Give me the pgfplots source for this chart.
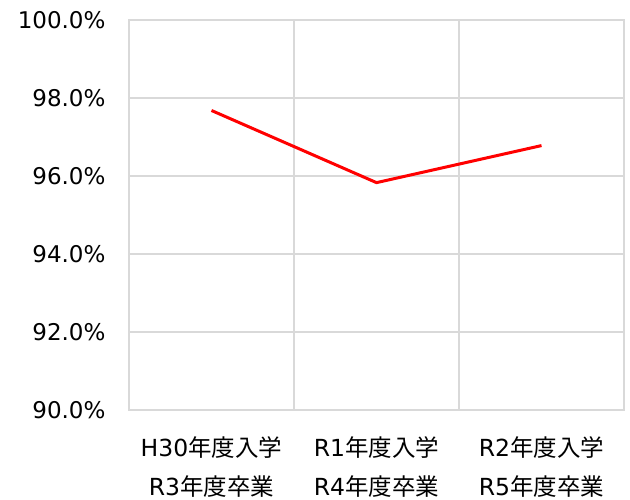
\documentclass[border=0pt]{standalone}
\usepackage{pgfplots}
\pgfplotsset{compat=1.18}
\usepackage{fontspec}
\setmainfont{DejaVu Sans}
\newfontfamily\cjk{Noto Sans CJK JP}
\definecolor{gridc}{HTML}{D9D9D9}
\begin{document}
\begin{tikzpicture}
\begin{axis}[
  scale only axis,
  width=495pt, height=390pt,
  xmin=-0.5, xmax=2.5,
  ymin=90, ymax=100,
  ytick={90,92,...,100},
  xtick={0,1,2},
  xticklabels={{H30\cjk 年度入学\\R3\cjk 年度卒業},{R1\cjk 年度入学\\R4\cjk 年度卒業},{R2\cjk 年度入学\\R5\cjk 年度卒業}},
  minor xtick={-0.5,0.5,1.5,2.5},
  xmajorgrids=false,
  xminorgrids=true,
  ymajorgrids=true,
  grid style={gridc, line width=1.2pt},
  minor grid style={gridc, line width=1.2pt},
  axis line style={gridc, line width=1.2pt},
  major tick length=0pt, minor tick length=0pt,
  yticklabel={\pgfmathprintnumber[fixed,fixed zerofill,precision=1]{\tick}\%},
  /pgf/number format/assume math mode=true,
  yticklabel style={font=\fontsize{23}{27}\selectfont, xshift=-20pt},
  xticklabel style={font=\fontsize{23.5}{38.5}\selectfont, align=center, inner sep=0pt, yshift=-26.5pt},
]
\addplot[color={rgb,255:red,255;green,0;blue,0}, line width=3pt, mark=none] coordinates {(0,97.68) (1,95.83) (2,96.78)};
\end{axis}
\pgfresetboundingbox
\path[use as bounding box] ([shift={(-129pt,-89pt)}]current axis.south west) rectangle ([shift={(6pt,20pt)}]current axis.north east);
\end{tikzpicture}
\end{document}
